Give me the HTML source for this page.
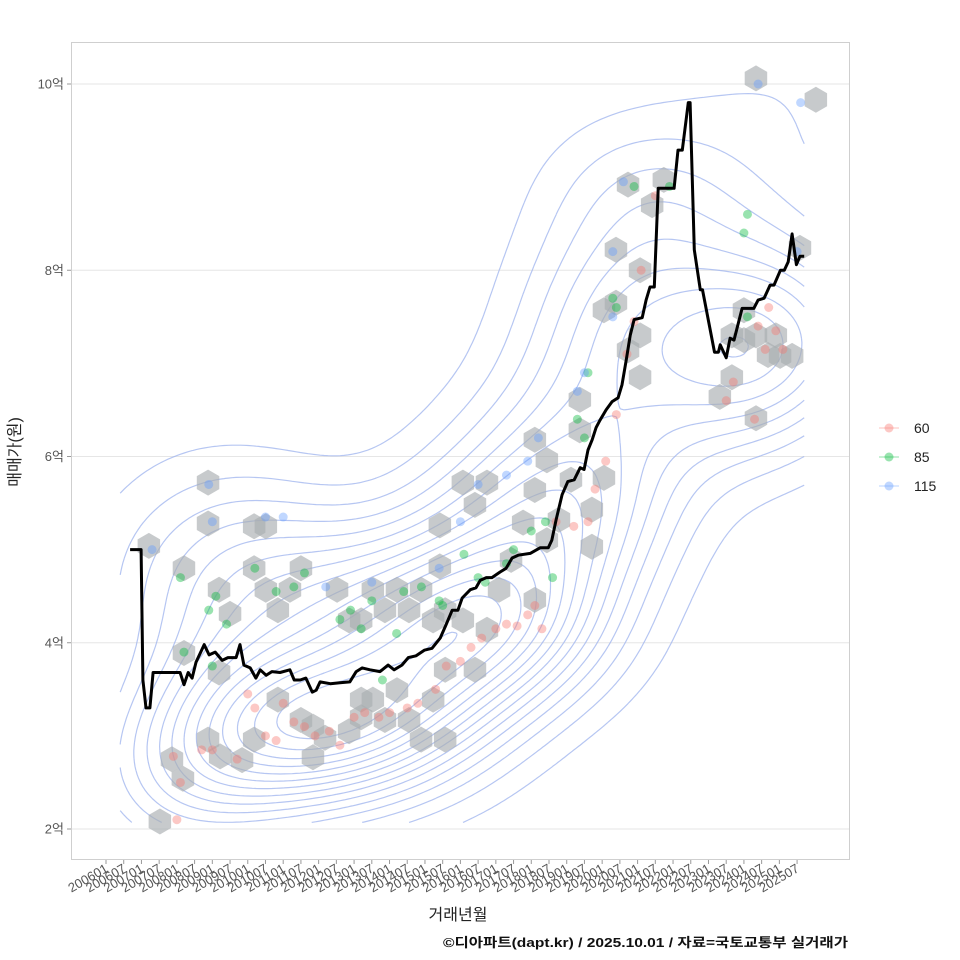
<!DOCTYPE html>
<html><head><meta charset="utf-8">
<style>
html,body{margin:0;padding:0;background:#fff;}
svg{display:block;font-family:"Liberation Sans","Noto Sans CJK KR",sans-serif;}
</style></head>
<body>
<svg id="chart" width="960" height="960" viewBox="0 0 960 960" xmlns="http://www.w3.org/2000/svg">
<rect x="0" y="0" width="960" height="960" fill="#fff"/>
<g id="grid"></g>
<g id="contours"></g>
<g id="hexes"></g>
<g id="dots"></g>
<g id="line"></g>
<rect x="71.5" y="42.5" width="778" height="817" fill="none" stroke="#cfcfcf" stroke-width="1"/>
<g id="yaxis"></g>
<g id="xaxis"></g>
<text transform="translate(20,452) rotate(-90)" text-anchor="middle" font-size="16" fill="#222">매매가(원)</text>
<text x="458" y="920" text-anchor="middle" font-size="16" fill="#222">거래년월</text>
<g id="legend"></g>
<text x="848" y="947" text-anchor="end" font-size="13" font-weight="bold" fill="#111" textLength="405" lengthAdjust="spacingAndGlyphs">©디아파트(dapt.kr) / 2025.10.01 / 자료=국토교통부 실거래가</text>
</svg>
<script>
const yTicks=[2,4,6,8,10];
const xTickLabels=["200601","200607","200701","200707","200801","200807","200901","200907","201001","201007","201101","201107","201201","201207","201301","201307","201401","201407","201501","201507","201601","201607","201701","201707","201801","201807","201901","201907","202001","202007","202101","202107","202201","202207","202301","202307","202401","202407","202501","202507"];
const lineYears=[2006.68,2006.99,2007.04,2007.13,2007.24,2007.33,2008.09,2008.20,2008.32,2008.43,2008.54,2008.77,2008.91,2009.08,2009.28,2009.44,2009.67,2009.78,2009.89,2010.07,2010.23,2010.35,2010.52,2010.68,2010.91,2011.19,2011.31,2011.48,2011.64,2011.82,2011.93,2012.04,2012.33,2012.60,2012.88,2013.06,2013.23,2013.45,2013.73,2013.96,2014.13,2014.35,2014.53,2014.75,2014.98,2015.20,2015.43,2015.59,2015.77,2015.93,2016.05,2016.28,2016.44,2016.56,2016.73,2016.89,2017.12,2017.29,2017.46,2017.63,2017.97,2018.25,2018.48,2018.58,2018.70,2018.87,2019.03,2019.21,2019.38,2019.49,2019.60,2019.72,2019.83,2019.94,2020.11,2020.28,2020.45,2020.56,2020.68,2020.79,2020.90,2021.13,2021.24,2021.35,2021.47,2021.58,2021.75,2021.92,2022.03,2022.14,2022.26,2022.43,2022.48,2022.60,2022.77,2022.83,2023.17,2023.28,2023.33,2023.50,2023.61,2023.72,2023.95,2024.18,2024.28,2024.40,2024.57,2024.74,2024.85,2025.03,2025.14,2025.25,2025.36,2025.48,2025.58,2025.70];
const lineValues=[5.00,5.00,3.60,3.30,3.30,3.68,3.68,3.55,3.68,3.62,3.79,3.98,3.87,3.90,3.81,3.84,3.84,3.98,3.76,3.73,3.62,3.71,3.65,3.69,3.68,3.71,3.60,3.60,3.62,3.47,3.49,3.58,3.56,3.57,3.58,3.69,3.73,3.71,3.69,3.76,3.71,3.76,3.84,3.86,3.92,3.94,4.05,4.19,4.35,4.35,4.48,4.57,4.59,4.67,4.70,4.70,4.76,4.80,4.91,4.94,4.96,5.02,5.02,5.10,5.32,5.59,5.73,5.75,5.88,5.86,6.07,6.18,6.31,6.39,6.50,6.59,6.63,6.77,7.04,7.30,7.47,7.49,7.68,7.82,7.82,8.88,8.88,8.88,8.88,9.29,9.29,9.80,9.80,8.22,7.79,7.79,7.12,7.12,7.20,7.06,7.27,7.25,7.59,7.59,7.59,7.68,7.70,7.84,7.84,8.00,8.00,8.09,8.39,8.06,8.15,8.15];
const hexYears=[2007.21,2007.52,2007.86,2008.17,2008.20,2008.20,2008.88,2008.88,2008.88,2009.19,2009.22,2009.19,2009.50,2009.84,2010.18,2010.18,2010.51,2010.51,2010.85,2011.19,2011.50,2010.18,2010.85,2011.50,2011.84,2012.18,2012.52,2012.86,2013.20,2013.53,2013.87,2014.21,2014.55,2014.89,2015.23,2015.57,2013.20,2013.53,2013.87,2014.21,2014.55,2014.89,2015.23,2015.57,2015.57,2015.42,2015.42,2016.07,2016.41,2016.75,2016.07,2016.41,2016.75,2017.09,2017.43,2017.77,2018.10,2018.10,2018.44,2018.10,2018.44,2018.78,2019.12,2019.37,2019.71,2019.71,2020.05,2019.37,2020.39,2020.39,2020.05,2020.73,2021.07,2021.07,2020.73,2021.07,2021.41,2021.74,2023.32,2023.66,2023.66,2024.00,2024.34,2024.68,2025.02,2025.36,2024.34,2024.34,2026.03,2025.58,2024.00,2024.90,2012.86,2013.20,2011.84];
const hexValues=[5.04,2.08,2.75,2.54,4.80,3.89,5.72,5.28,2.96,4.57,2.78,3.68,4.31,2.74,5.25,4.80,5.25,4.57,4.35,4.57,4.80,2.96,3.39,3.17,2.77,2.98,4.57,4.24,4.24,4.57,4.35,4.57,4.35,4.57,4.24,4.35,3.39,3.39,3.17,3.49,3.17,2.96,3.39,3.71,2.96,5.26,4.82,5.72,5.48,5.72,4.24,3.71,4.14,4.57,4.89,5.29,6.18,5.64,5.96,4.46,5.10,5.32,5.75,6.28,5.03,5.43,5.77,6.61,8.22,7.65,7.57,8.92,8.00,7.30,7.14,6.85,8.70,8.97,6.64,6.85,7.30,7.57,7.30,7.09,7.08,7.08,6.41,10.06,9.83,8.24,7.25,7.30,3.05,3.20,3.10];
const redYears=[2008.0,2007.9,2008.1,2008.7,2009.0,2009.7,2010.0,2010.2,2010.5,2010.8,2011.0,2011.3,2011.6,2011.9,2012.3,2012.6,2013.0,2013.3,2013.7,2014.0,2014.5,2014.8,2015.3,2015.6,2016.0,2016.3,2016.6,2017.0,2017.3,2017.6,2017.9,2018.1,2018.3,2018.7,2019.2,2019.6,2019.8,2020.1,2020.4,2020.7,2020.9,2021.1,2021.5,2023.5,2023.7,2024.4,2024.6,2024.9,2025.1,2024.7,2024.3];
const redValues=[2.1,2.78,2.5,2.85,2.85,2.75,3.45,3.3,3.0,2.95,3.35,3.15,3.1,3.0,3.05,2.9,3.2,3.25,3.2,3.25,3.3,3.35,3.5,3.75,3.8,3.95,4.05,4.15,4.2,4.18,4.3,4.4,4.15,5.3,5.25,5.3,5.65,5.95,6.45,7.1,7.45,8.0,8.8,6.6,6.8,7.4,7.15,7.35,7.15,7.6,6.4];
const greenYears=[2008.1,2008.2,2008.9,2009.1,2009.4,2009.0,2010.2,2010.8,2011.3,2011.6,2012.6,2012.9,2013.2,2013.5,2014.2,2014.4,2014.9,2015.4,2015.5,2016.1,2016.5,2016.7,2017.3,2017.5,2018.0,2018.4,2018.6,2019.3,2019.6,2019.5,2020.3,2020.4,2020.9,2021.9,2024.0,2024.1,2024.1,2013.8];
const greenValues=[4.7,3.9,4.35,4.5,4.2,3.75,4.8,4.55,4.6,4.75,4.25,4.35,4.15,4.45,4.1,4.55,4.6,4.45,4.4,4.95,4.7,4.65,4.85,5.0,5.2,5.3,4.7,6.4,6.9,6.2,7.7,7.6,8.9,8.9,8.4,8.6,7.5,3.6];
const blueYears=[2007.3,2008.9,2009.0,2010.5,2011.0,2012.2,2013.5,2015.4,2016.0,2016.5,2017.3,2017.9,2018.2,2019.3,2019.5,2020.3,2020.6,2020.3,2024.4,2025.6,2025.5];
const blueValues=[5.0,5.7,5.3,5.35,5.35,4.6,4.65,4.8,5.3,5.7,5.8,5.95,6.2,6.7,6.9,8.2,8.95,7.5,10.0,9.8,8.2];
const legendLabels=["60","85","115"];
const seriesColors=["#F8766D","#00BA38","#619CFF"];

const NS="http://www.w3.org/2000/svg";
function xs(yr){return 106+(yr-2006)*35.44;}
function ys(v){return 829-(v-2)*93.125;}
function mk(tag,attrs,parent){const e=document.createElementNS(NS,tag);for(const k in attrs)e.setAttribute(k,attrs[k]);parent.appendChild(e);return e;}
const G=id=>document.getElementById(id);

yTicks.forEach(v=>{
  const l=mk('line',{x1:72,x2:849,y1:ys(v),y2:ys(v),stroke:'#e6e6e6','stroke-width':1},G('grid'));
  
  
  const t=mk('text',{x:64,y:ys(v)+4.5,'text-anchor':'end','font-size':13,fill:'#555'},G('yaxis'));
  t.textContent=v+'억';
  
  
  mk('line',{x1:67,x2:71,y1:ys(v),y2:ys(v),stroke:'#999'},G('yaxis'));
});
xTickLabels.forEach(s=>{
  const yr=+s.slice(0,4)+(+s.slice(4)-1)/12;
  const x=xs(yr);
  mk('line',{x1:x,x2:x,y1:860,y2:864,stroke:'#999'},G('xaxis'));
  const t=mk('text',{transform:`translate(${x+3},${871}) rotate(-30)`,'text-anchor':'end','font-size':13,fill:'#555'},G('xaxis'));
  t.textContent=s;
  
  
});

(function(){
  const px=[],py=[],pw=[];
  [[redYears,redValues,3],[greenYears,greenValues,1.3],[blueYears,blueValues,0.8],[hexYears,hexValues,0.6]].forEach(s=>s[0].forEach((yr,i)=>{px.push(xs(yr));py.push(ys(s[1][i]));pw.push(s[2]);}));
  const x0=xs(2006.4),x1=xs(2025.6),y0=Math.min(...py),y1=ys(2.1);
  const sx=72,sy=56,step=4;
  const nx=Math.ceil((x1-x0)/step)+1,ny=Math.ceil((y1-y0)/step)+1;
  const f=[];let mx=0;
  for(let j=0;j<ny;j++){const row=[];const y=y0+j*step;
    for(let i=0;i<nx;i++){const x=x0+i*step;let s=0;
      for(let k=0;k<px.length;k++){const dx=(x-px[k])/sx,dy=(y-py[k])/sy;const q=dx*dx+dy*dy;if(q<14)s+=pw[k]*Math.exp(-0.5*q);}
      row.push(s);if(s>mx)mx=s;}
    f.push(row);}
  const levels=[];for(let l=1;l<=15;l++)levels.push(mx*l/16);
  let d='';
  const lerp=(a,b,L)=>(L-a)/(b-a);
  for(const L of levels){
    for(let j=0;j<ny-1;j++)for(let i=0;i<nx-1;i++){
      const a=f[j][i],b=f[j][i+1],c=f[j+1][i+1],e=f[j+1][i];
      const idx=(a>L?8:0)|(b>L?4:0)|(c>L?2:0)|(e>L?1:0);
      if(idx===0||idx===15)continue;
      const X=x0+i*step,Y=y0+j*step;
      const T=[X+step*lerp(a,b,L),Y],R=[X+step,Y+step*lerp(b,c,L)],B=[X+step*lerp(e,c,L),Y+step],Lf=[X,Y+step*lerp(a,e,L)];
      const segs={1:[[Lf,B]],2:[[B,R]],3:[[Lf,R]],4:[[T,R]],5:[[Lf,T],[B,R]],6:[[T,B]],7:[[Lf,T]],8:[[Lf,T]],9:[[T,B]],10:[[T,R],[Lf,B]],11:[[T,R]],12:[[Lf,R]],13:[[B,R]],14:[[Lf,B]]}[idx];
      for(const s of segs)d+=`M${s[0][0].toFixed(1)},${s[0][1].toFixed(1)}L${s[1][0].toFixed(1)},${s[1][1].toFixed(1)}`;
    }
  }
  const p=mk('path',{d:d,fill:'none',stroke:'#9db3ee','stroke-opacity':0.75,'stroke-width':1.2},G('contours'));
  
  
})();

hexYears.forEach((yr,i)=>{const cx=xs(yr),cy=ys(hexValues[i]),r=13;let p=[];
 for(let a=0;a<6;a++){const ang=Math.PI/6+a*Math.PI/3;p.push((cx+r*Math.cos(ang)).toFixed(1)+','+(cy+r*Math.sin(ang)).toFixed(1));}
 const h=mk('polygon',{points:p.join(' '),fill:'#a9adb1','fill-opacity':0.65},G('hexes'));
 
 });

[[redYears,redValues],[greenYears,greenValues],[blueYears,blueValues]].forEach((s,si)=>{
 s[0].forEach((yr,i)=>{const c=mk('circle',{cx:xs(yr),cy:ys(s[1][i]),r:4.5,fill:seriesColors[si],'fill-opacity':0.4},G('dots'));
 
 });});

const pl=mk('polyline',{points:lineYears.map((yr,i)=>xs(yr).toFixed(1)+','+ys(lineValues[i]).toFixed(1)).join(' '),fill:'none',stroke:'#000','stroke-width':3,'stroke-linejoin':'round'},G('line'));



legendLabels.forEach((lab,i)=>{const y=428+i*29;
 const g=mk('g',{},G('legend'));
 
 
 mk('line',{x1:879,x2:899,y1:y,y2:y,stroke:seriesColors[i],'stroke-opacity':0.35,'stroke-width':1.2},g);
 mk('circle',{cx:889,cy:y,r:4.5,fill:seriesColors[i],'fill-opacity':0.4},g);
 const t=mk('text',{x:914,y:y+5,'font-size':14,fill:'#222'},g);t.textContent=lab;});
</script>
</body></html>
